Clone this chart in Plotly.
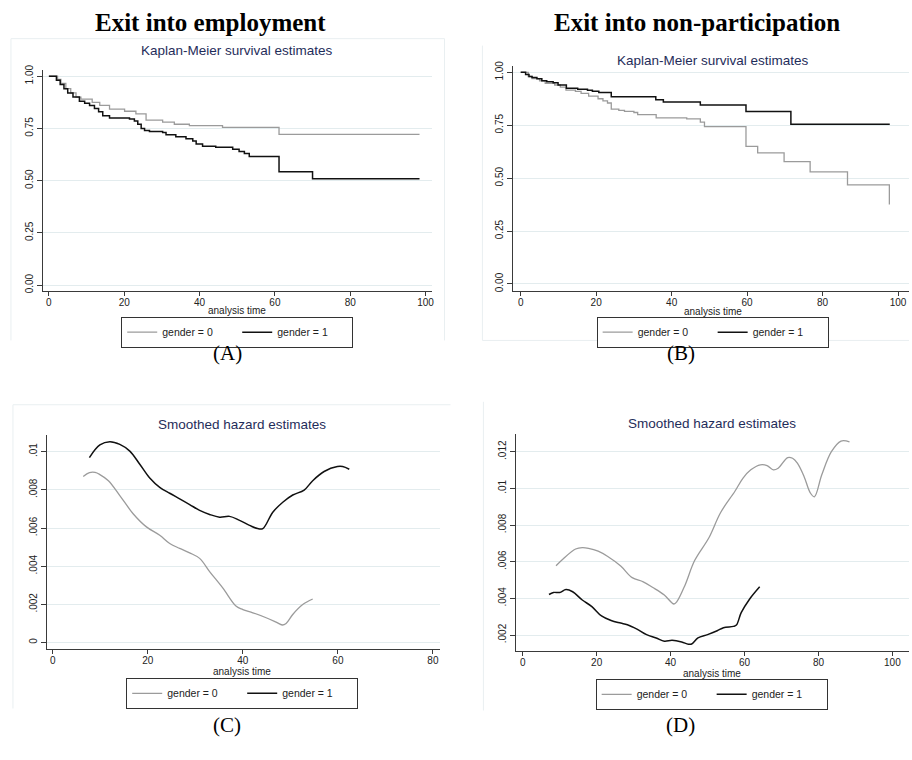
import plotly.graph_objects as go

W, H = 912, 760
OFF = 0  # body margin is removed by the post_script below, so figure pixels are screen pixels

# ---------------- data ----------------
# (A) Kaplan-Meier, exit into employment
a0_time = [0, 2.3, 3.2, 4.5, 5.8, 7.2, 8.5, 11.5, 13.5, 16.1, 20.1, 23.1, 25.8, 30.2, 33.3, 37.3, 46.1, 61.1, 98.4]
a0_surv = [1.0, 0.985, 0.965, 0.94, 0.92, 0.90, 0.89, 0.875, 0.86, 0.842, 0.832, 0.82, 0.79, 0.78, 0.77, 0.763, 0.755, 0.721, 0.721]
a1_time = [0, 2.0, 3.0, 4.0, 5.0, 6.4, 8.1, 9.5, 10.8, 12.1, 13.2, 14.3, 16.1, 21.4, 22.7, 23.6, 24.5, 25.4, 26.7,
           30.2, 31.1, 33.7, 36.4, 38.2, 39.1, 40.8, 44.3, 48.8, 50.5, 51.9, 53.2, 61.1, 70.0, 98.4]
a1_surv = [1.0, 0.98, 0.96, 0.94, 0.92, 0.90, 0.88, 0.87, 0.86, 0.845, 0.83, 0.81, 0.80, 0.795, 0.785, 0.77, 0.75, 0.74, 0.735,
           0.73, 0.72, 0.71, 0.70, 0.69, 0.675, 0.665, 0.66, 0.65, 0.64, 0.63, 0.615, 0.542, 0.509, 0.509]

# (B) Kaplan-Meier, exit into non-participation
b0_time = [0, 2, 3, 5, 6.5, 9, 10.5, 12, 14.5, 16, 18, 20.5, 21.8, 23, 24, 26, 27.5, 30, 31, 35.9, 44, 47.6, 48.7,
           59.7, 62.8, 69.8, 76.7, 86.6, 97.7, 97.7]
b0_surv = [1.0, 0.98, 0.97, 0.96, 0.948, 0.94, 0.93, 0.916, 0.91, 0.90, 0.887, 0.875, 0.865, 0.855, 0.826, 0.82, 0.815,
           0.81, 0.80, 0.785, 0.78, 0.765, 0.743, 0.650, 0.619, 0.578, 0.530, 0.468, 0.468, 0.375]
b1_time = [0, 1.3, 2.2, 3, 4.3, 5.6, 6.9, 8.6, 9.9, 12.1, 15.1, 17.7, 19, 20.7, 24, 35.8, 37.8, 47.6, 59.7, 71.6, 97.8]
b1_surv = [1.0, 0.99, 0.98, 0.975, 0.97, 0.96, 0.955, 0.95, 0.94, 0.925, 0.92, 0.915, 0.91, 0.905, 0.884, 0.87, 0.86,
           0.846, 0.815, 0.754, 0.754]

# (C) Smoothed hazard, exit into employment
c0_time = [6.4, 7.7, 8.9, 9.9, 11.7, 14.1, 16.9, 19.7, 22.5, 24.6, 26.7, 28.8, 30.9, 33.0, 35.8, 38.6, 40.0, 42.1,
           44.9, 47.0, 48.3, 49.1, 50.5, 52.6, 54.7]
c0_haz = [.0087, .0089, .00891, .0088, .00848, .0077, .00675, .00606, .00562, .00519, .00493, .0047, .00441, .00372,
          .00285, .0019, .00173, .00156, .0013, .00107, .00092, .0010, .00147, .00199, .00228]
c1_time = [7.7, 9.9, 12.0, 14.1, 16.2, 18.3, 20.4, 22.5, 24.6, 26.7, 28.8, 30.9, 33.0, 35.1, 37.2, 39.3, 41.4, 43.1,
           44.2, 46.3, 48.4, 50.5, 52.9, 54.7, 57.1, 59.9, 61.0, 62.4]
c1_haz = [.00969, .01035, .01052, .01038, .01003, .00934, .00862, .00813, .00782, .00753, .00723, .00692, .00671,
          .00657, .00661, .0064, .00614, .00597, .00597, .00683, .00735, .00773, .00799, .00848, .00896, .00922,
          .00922, .00908]

# (D) Smoothed hazard, exit into non-participation
d0_time = [9.0, 10.9, 14.3, 16.1, 17.8, 20.4, 23.0, 26.5, 29.6, 32.6, 35.2, 38.3, 40.9, 41.7, 43.9, 46.5, 50.4, 53.5,
           57.4, 59.6, 61.7, 64.3, 66.1, 67.8, 69.1, 71.7, 73.0, 74.3, 76.1, 77.8, 78.9, 80.9, 83.5, 86.1, 88.4]
d0_haz = [.00578, .00615, .00669, .00677, .00673, .00657, .00628, .00576, .00513, .0049, .00459, .00418, .00369,
          .00382, .00472, .00606, .00732, .00867, .00984, .01056, .01101, .01128, .01124, .01101, .0111, .01168,
          .01164, .01137, .01065, .00975, .00954, .01074, .0120, .01258, .01254]
d1_time = [7.1, 8.3, 10.0, 11.7, 13.5, 16.1, 18.7, 21.3, 23.9, 26.5, 28.3, 30.9, 33.5, 36.1, 38.3, 40.4, 43.0, 44.8,
           45.7, 47.4, 50.0, 52.6, 54.3, 57.0, 57.8, 59.1, 61.3, 64.1]
d1_haz = [.00421, .00432, .00432, .00448, .00436, .00391, .00355, .00304, .00279, .00265, .00256, .00232, .00202,
          .00184, .00166, .00171, .00162, .0015, .00151, .00184, .00202, .00223, .0024, .00247, .00254, .00322,
          .00394, .00463]

series_names = ["gender = 0", "gender = 1"]
km_ticks = [0, 0.25, 0.5, 0.75, 1.0]
km_ticktext = ["0.00", "0.25", "0.50", "0.75", "1.00"]
c_ticks = [0, .002, .004, .006, .008, .01]
c_ticktext = ["0", ".002", ".004", ".006", ".008", ".01"]
d_ticks = [.002, .004, .006, .008, .01, .012]
d_ticktext = [".002", ".004", ".006", ".008", ".01", ".012"]
x100_ticks = [0, 20, 40, 60, 80, 100]
x80_ticks = [0, 20, 40, 60, 80]

headers = ["Exit into employment", "Exit into non-participation"]
panel_titles = ["Kaplan-Meier survival estimates", "Kaplan-Meier survival estimates",
                "Smoothed hazard estimates", "Smoothed hazard estimates"]
panel_labels = ["(A)", "(B)", "(C)", "(D)"]

# ---------------- styling helpers ----------------
GRAY = "#9b9b9b"
BLACK = "#111111"
AXC = "#3a3a3a"
GRID = "#e3ecee"
TITLEC = "#1f2d5a"
SANS = "Liberation Sans, Arial, sans-serif"
SERIF = "Liberation Serif, Times New Roman, serif"


def px(x):
    return (x - OFF) / W


def py(y):
    return 1 - (y - OFF) / H


def xaxis(dom, rng, ticks, anchor):
    return dict(domain=[px(dom[0]), px(dom[1])], range=rng, anchor=anchor, showline=True, linecolor=AXC,
                linewidth=1, ticks="outside", ticklen=4, tickcolor=AXC, tickwidth=1, tickvals=ticks,
                tickfont=dict(family=SANS, size=10, color="#222"), showgrid=False, zeroline=False,
                ticklabeloverflow="allow", ticklabelstandoff=-2)


def yaxis(dom, rng, ticks, text, anchor):
    return dict(domain=[py(dom[1]), py(dom[0])], range=rng, anchor=anchor, showline=True, linecolor=AXC,
                linewidth=1, ticks="outside", ticklen=5, tickcolor=AXC, tickwidth=1, tickvals=ticks,
                ticktext=text, tickangle=-90, tickfont=dict(family=SANS, size=10, color="#222"),
                showgrid=True, gridcolor=GRID, gridwidth=1, zeroline=False)


fig = go.Figure()

panels = [
    ("x", "y", "legend", a0_time, a0_surv, a1_time, a1_surv, "hv"),
    ("x2", "y2", "legend2", b0_time, b0_surv, b1_time, b1_surv, "hv"),
    ("x3", "y3", "legend3", c0_time, c0_haz, c1_time, c1_haz, "spline"),
    ("x4", "y4", "legend4", d0_time, d0_haz, d1_time, d1_haz, "spline"),
]
for xa, ya, lg, t0, v0, t1, v1, shape in panels:
    fig.add_trace(go.Scatter(x=t0, y=v0, mode="lines", name=series_names[0], xaxis=xa, yaxis=ya, legend=lg,
                             line=dict(color=GRAY, width=1.3, shape=shape)))
    fig.add_trace(go.Scatter(x=t1, y=v1, mode="lines", name=series_names[1], xaxis=xa, yaxis=ya, legend=lg,
                             line=dict(color=BLACK, width=1.5, shape=shape)))

layout = dict(
    width=W, height=H, margin=dict(l=0, r=0, t=0, b=0), paper_bgcolor="white", plot_bgcolor="white",
    showlegend=True,
    xaxis=xaxis((43, 433), [-1.6, 101.6], x100_ticks, "y"),
    yaxis=yaxis((65, 288), [-0.028, 1.028], km_ticks, km_ticktext, "x"),
    xaxis2=xaxis((515, 912), [-1.96, 102.9], x100_ticks, "y2"),
    yaxis2=yaxis((61, 288), [-0.033, 1.028], km_ticks, km_ticktext, "x2"),
    xaxis3=xaxis((47, 441), [-1.26, 81.4], x80_ticks, "y3"),
    yaxis3=yaxis((434, 650), [-0.000346, 0.01085], c_ticks, c_ticktext, "x3"),
    xaxis4=xaxis((518, 912), [-1.75, 104.5], x100_ticks, "y4"),
    yaxis4=yaxis((433, 652), [0.00112, 0.01294], d_ticks, d_ticktext, "x4"),
)

legend_pos = [(238, 314), (715, 314), (243, 679), (714, 680)]
for i, (lx, ly) in enumerate(legend_pos):
    key = "legend" if i == 0 else f"legend{i + 1}"
    layout[key] = dict(x=px(lx), y=py(ly), xanchor="center", yanchor="top", orientation="h",
                       bgcolor="white", bordercolor="#333", borderwidth=1,
                       font=dict(family=SANS, size=10.5, color="#222"),
                       entrywidth=70, entrywidthmode="pixels", tracegroupgap=0)

fig.update_layout(**layout)

ann = []
# column headers
for txt, cx in zip(headers, (211, 699)):
    ann.append(dict(text="<b>" + txt + "</b>", x=px(cx), y=py(17), xref="paper", yref="paper", showarrow=False,
                    xanchor="center", yanchor="middle", font=dict(family=SERIF, size=25, color="black")))
# panel titles
for txt, (cx, cy) in zip(panel_titles, [(238, 45), (715, 55), (243, 423), (714, 422)]):
    ann.append(dict(text=txt, x=px(cx), y=py(cy), xref="paper", yref="paper", showarrow=False,
                    xanchor="center", yanchor="middle", font=dict(family=SANS, size=13.5, color=TITLEC)))
# x axis titles
for cx, cy in [(238, 308), (715, 309), (243, 673), (714, 675)]:
    ann.append(dict(text="analysis time", x=px(cx), y=py(cy), xref="paper", yref="paper", showarrow=False,
                    xanchor="center", yanchor="middle", font=dict(family=SANS, size=10, color="#222")))
# panel letters
for txt, (cx, cy) in zip(panel_labels, [(228, 351), (683, 351), (228, 727), (683, 727)]):
    ann.append(dict(text=txt, x=px(cx), y=py(cy), xref="paper", yref="paper", showarrow=False,
                    xanchor="center", yanchor="middle", font=dict(family=SERIF, size=21, color="black")))
fig.update_layout(annotations=ann)

# faint outer frames of the original Stata graphs
FR = "#e9eff1"
frames = [
    (11, 33, 11, 338), (11, 33, 446, 33), (446, 33, 446, 338),
    (484, 40, 484, 338), (484, 338, 912, 338),
    (13, 403, 13, 710), (13, 403, 452, 403),
    (485, 400, 485, 712),
]
shapes = []
for x0, y0, x1, y1 in frames:
    shapes.append(dict(type="line", xref="paper", yref="paper", x0=px(x0), y0=py(y0), x1=px(x1), y1=py(y1),
                       line=dict(color=FR, width=1), layer="below"))
fig.update_layout(shapes=shapes)

fig.write_html("out.html", config={"displayModeBar": False},
               post_script="document.body.style.margin='0px';")
